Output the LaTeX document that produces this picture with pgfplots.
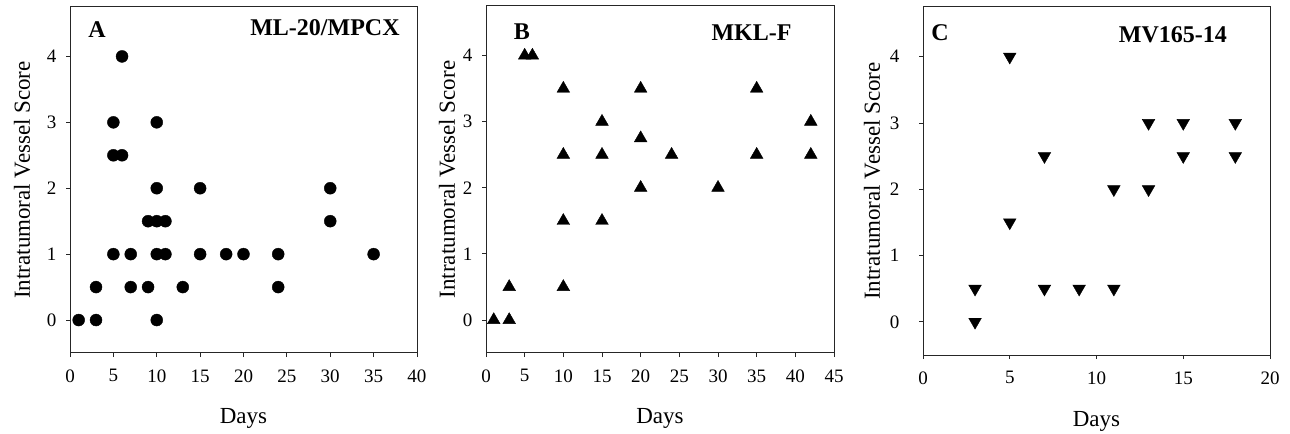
\documentclass[border=0pt]{standalone}
\usepackage{fontspec}
\setmainfont{Liberation Serif}
\usepackage{pgfplots}
\pgfplotsset{compat=1.18}
\pgfplotsset{
  panel/.style={
    scale only axis,
    anchor=south west,
    ymin=-0.5, ymax=4.75,
    ytick={0,1,2,3,4},
    xmin=0,
    tick align=outside,
    major tick length=4bp,
    xtick pos=bottom, ytick pos=left,
    axis line style={line width=1bp, black!85},
    tick style={line width=0.8bp, black!85},
    /pgf/number format/assume math mode=true,
    tick label style={font=\fontsize{19bp}{21bp}\selectfont},
    xticklabel style={yshift=-9bp},
    yticklabel style={xshift=-6bp},
    label style={font=\fontsize{23bp}{25bp}\selectfont},
    xlabel={Days},
    ylabel={Intratumoral Vessel Score},
    xlabel style={at={(axis description cs:0.5,-0.19)}, anchor=center},
    clip=false,
  },
  dot/.style={only marks, mark=*, mark size=6bp, mark options={fill=black, draw=black}},
  up/.style={only marks, mark=triangle*, mark size=7.3bp, mark options={fill=black, draw=black}},
  down/.style={only marks, mark=triangle*, mark size=7.3bp, mark options={fill=black, draw=black, rotate=180}},
}
\begin{document}
\begin{tikzpicture}
\path[use as bounding box] (0,0) rectangle (1290bp,434bp);
% Panel A
\begin{axis}[panel, at={(70bp,81bp)}, width=347bp, height=346bp,
  xmax=40, xtick={0,5,...,40},
  ylabel style={at={(axis description cs:-0.138,0.5)}, anchor=center}]
\addplot[dot] coordinates {
(1,0) (3,0) (3,0.5) (5,3) (5,2.5) (5,1) (6,4) (6,2.5) (7,1) (7,0.5)
(9,1.5) (9,0.5) (10,3) (10,2) (10,1.5) (10,1) (10,0) (11,1.5) (11,1)
(13,0.5) (15,2) (15,1) (18,1) (20,1) (24,1) (24,0.5) (30,2) (30,1.5) (35,1)
};
\node[font=\bfseries\fontsize{24bp}{26bp}\selectfont] at (rel axis cs:0.078,0.934) {A};
\node[font=\bfseries\fontsize{24bp}{26bp}\selectfont, anchor=east] at (rel axis cs:0.96,0.94) {ML-20/MPCX};
\end{axis}
% Panel B
\begin{axis}[panel, at={(486bp,81bp)}, width=348bp, height=347bp,
  xmax=45, xtick={0,5,...,45},
  ylabel style={at={(axis description cs:-0.112,0.5)}, anchor=center}]
\addplot[up] coordinates {
(1,0) (3,0) (3,0.5) (5,4) (6,4) (10,3.5) (10,2.5) (10,1.5) (10,0.5)
(15,3) (15,2.5) (15,1.5) (20,3.5) (20,2.75) (20,2) (24,2.5) (30,2)
(35,3.5) (35,2.5) (42,3) (42,2.5)
};
\node[font=\bfseries\fontsize{24bp}{26bp}\selectfont] at (rel axis cs:0.103,0.925) {B};
\node[font=\bfseries\fontsize{24bp}{26bp}\selectfont] at (rel axis cs:0.763,0.922) {MKL-F};
\end{axis}
% Panel C
\begin{axis}[panel, at={(923bp,79bp)}, width=347bp, height=348bp,
  xmax=20, xtick={0,5,...,20},
  yticklabel style={xshift=-10bp},
  ylabel style={at={(axis description cs:-0.147,0.5)}, anchor=center}]
\addplot[down] coordinates {
(3,0.5) (3,0) (5,4) (5,1.5) (7,2.5) (7,0.5) (9,0.5) (11,2) (11,0.5)
(13,3) (13,2) (15,3) (15,2.5) (18,3) (18,2.5)
};
\node[font=\bfseries\fontsize{24bp}{26bp}\selectfont] at (rel axis cs:0.049,0.925) {C};
\node[font=\bfseries\fontsize{24bp}{26bp}\selectfont] at (rel axis cs:0.72,0.92) {MV165-14};
\end{axis}
\end{tikzpicture}
\end{document}
